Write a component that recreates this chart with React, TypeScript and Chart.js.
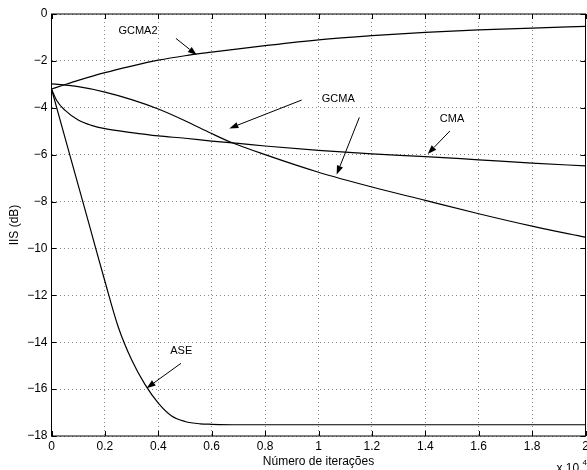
import { useEffect, useRef } from 'react';
import { Chart, registerables } from 'chart.js';

Chart.register(...registerables);

// Axis ranges / tick steps
const xMin = 0;
const xMax = 2;
const xStep = 0.2;
const yMin = -18;
const yMax = 0;
const yStep = 2;

// Series (x in units of 10^4 iterations, y in dB)
const gcma2X = [0, 0.04, 0.1, 0.2, 0.3, 0.4, 0.5, 0.6, 0.8, 1.0, 1.2, 1.4, 1.6, 1.8, 2.0];
const gcma2Y = [-3.2, -3.05, -2.83, -2.5, -2.22, -1.97, -1.78, -1.63, -1.35, -1.1, -0.92, -0.78, -0.68, -0.6, -0.53];

const gcmaX = [0, 0.1, 0.2, 0.3, 0.4, 0.5, 0.6, 0.67, 0.8, 1.0, 1.2, 1.4, 1.6, 1.8, 2.0];
const gcmaY = [-2.98, -3.1, -3.33, -3.65, -4.05, -4.55, -5.1, -5.46, -6.0, -6.75, -7.38, -7.95, -8.52, -9.05, -9.52];

const cmaX = [0, 0.02, 0.05, 0.1, 0.15, 0.2, 0.3, 0.4, 0.5, 0.6, 0.7, 0.8, 1.0, 1.2, 1.4, 1.6, 1.8, 2.0];
const cmaY = [-3.2, -3.7, -4.1, -4.52, -4.75, -4.89, -5.06, -5.2, -5.3, -5.42, -5.52, -5.63, -5.82, -5.97, -6.08, -6.22, -6.36, -6.48];

const aseX = [0, 0.05, 0.1, 0.15, 0.2, 0.25, 0.3, 0.35, 0.4, 0.45, 0.5, 0.556, 0.6, 0.7, 0.8, 1.0, 1.5, 2.0];
const aseY = [-3.2, -5.25, -7.3, -9.35, -11.4, -13.35, -14.75, -15.8, -16.6, -17.15, -17.38, -17.48, -17.5, -17.52, -17.52, -17.52, -17.52, -17.52];

// Annotation labels (data coordinates)
const labelTexts = ['GCMA2', 'GCMA', 'CMA', 'ASE'];
const labelX = [0.324, 1.074, 1.5, 0.486];
const labelY = [-0.72, -3.64, -4.46, -14.37];

// Annotation arrows (data coordinates), from -> to (head)
const arrowFromX = [0.466, 0.937, 1.153, 1.492, 0.485];
const arrowFromY = [-1.04, -3.67, -4.41, -4.99, -14.9];
const arrowToX = [0.544, 0.666, 1.068, 1.409, 0.356];
const arrowToY = [-1.75, -4.88, -6.85, -5.97, -15.96];

const FONT = '"Liberation Sans", Arial, Helvetica, sans-serif';

const toPoints = (xs: number[], ys: number[]) => xs.map((x, i) => ({ x, y: ys[i] }));

const decorPlugin = {
  id: 'decor',
  afterDatasetsDraw(chart: any) {
    const { ctx, chartArea: a, scales } = chart;
    const xs = scales.x;
    const ys = scales.y;
    ctx.save();
    // frame
    ctx.strokeStyle = '#000';
    ctx.lineWidth = 1;
    ctx.strokeRect(a.left, a.top, a.right - a.left, a.bottom - a.top);
    // inward ticks
    const tl = 5;
    ctx.beginPath();
    xs.ticks.forEach((t: any) => {
      const px = Math.round(xs.getPixelForValue(t.value)) + 0.5;
      ctx.moveTo(px, a.bottom);
      ctx.lineTo(px, a.bottom - tl);
      ctx.moveTo(px, a.top);
      ctx.lineTo(px, a.top + tl);
    });
    ys.ticks.forEach((t: any) => {
      const py = Math.round(ys.getPixelForValue(t.value)) + 0.5;
      ctx.moveTo(a.left, py);
      ctx.lineTo(a.left + tl, py);
      ctx.moveTo(a.right, py);
      ctx.lineTo(a.right - tl, py);
    });
    ctx.stroke();

    // labels
    ctx.fillStyle = '#000';
    ctx.font = `11px ${FONT}`;
    ctx.textAlign = 'center';
    ctx.textBaseline = 'middle';
    labelTexts.forEach((txt, i) => {
      ctx.fillText(txt, xs.getPixelForValue(labelX[i]), ys.getPixelForValue(labelY[i]));
    });

    // arrows
    ctx.lineWidth = 1;
    arrowFromX.forEach((fx, i) => {
      const x1 = xs.getPixelForValue(fx);
      const y1 = ys.getPixelForValue(arrowFromY[i]);
      const x2 = xs.getPixelForValue(arrowToX[i]);
      const y2 = ys.getPixelForValue(arrowToY[i]);
      const ang = Math.atan2(y2 - y1, x2 - x1);
      const hl = 9;
      const hw = 3.2;
      const bx = x2 - hl * Math.cos(ang);
      const by = y2 - hl * Math.sin(ang);
      ctx.beginPath();
      ctx.moveTo(x1, y1);
      ctx.lineTo(bx, by);
      ctx.stroke();
      ctx.beginPath();
      ctx.moveTo(x2, y2);
      ctx.lineTo(bx + hw * Math.sin(ang), by - hw * Math.cos(ang));
      ctx.lineTo(bx - hw * Math.sin(ang), by + hw * Math.cos(ang));
      ctx.closePath();
      ctx.fill();
    });
    ctx.restore();
  },
  afterDraw(chart: any) {
    const { ctx, chartArea: a } = chart;
    ctx.save();
    ctx.fillStyle = '#000';
    ctx.textAlign = 'left';
    ctx.textBaseline = 'alphabetic';
    ctx.font = `12px ${FONT}`;
    ctx.fillText('x 10', a.right - 29, 472);
    ctx.font = `8px ${FONT}`;
    ctx.fillText('4', a.right - 3, 465);
    ctx.restore();
  },
};

export default function App() {
  const ref = useRef<HTMLCanvasElement>(null);
  useEffect(() => {
    Chart.defaults.font.family = FONT;
    Chart.defaults.font.size = 12;
    Chart.defaults.color = '#000';
    const lineStyle = {
      borderColor: '#000',
      borderWidth: 1.2,
      pointRadius: 0,
      fill: false,
      cubicInterpolationMode: 'monotone' as const,
    };
    const chart = new Chart(ref.current!, {
      type: 'line',
      data: {
        datasets: [
          { label: 'GCMA2', data: toPoints(gcma2X, gcma2Y), ...lineStyle },
          { label: 'GCMA', data: toPoints(gcmaX, gcmaY), ...lineStyle },
          { label: 'CMA', data: toPoints(cmaX, cmaY), ...lineStyle },
          { label: 'ASE', data: toPoints(aseX, aseY), ...lineStyle },
        ],
      },
      options: {
        animation: false,
        responsive: true,
        maintainAspectRatio: false,
        devicePixelRatio: 1,
        layout: { padding: { top: 14, right: 1.5, left: 0, bottom: 0 } },
        plugins: { legend: { display: false }, tooltip: { enabled: false } },
        scales: {
          x: {
            type: 'linear',
            min: xMin,
            max: xMax,
            ticks: {
              stepSize: xStep,
              maxRotation: 0,
              autoSkip: false,
              padding: 3,
              callback: (v: any) => String(Number(Number(v).toFixed(1))),
            },
            grid: { color: '#888', lineWidth: 1, drawTicks: false, tickLength: 0 },
            border: { display: false, dash: [1, 3] },
            title: { display: true, text: 'Número de iterações', padding: { top: 0, bottom: 0.8 } },
            afterFit: (s: any) => {
              s.height = 34;
              s.paddingLeft = 0;
              s.paddingRight = 0;
            },
          },
          y: {
            type: 'linear',
            min: yMin,
            max: yMax,
            ticks: {
              stepSize: yStep,
              padding: 4,
              callback: (v: any) => String(Number(v)).replace('-', '\u2212'),
            },
            grid: { color: '#888', lineWidth: 1, drawTicks: false, tickLength: 0 },
            border: { display: false, dash: [1, 3] },
            title: { display: true, text: 'IIS (dB)', padding: { top: 7, bottom: 0 } },
            afterFit: (s: any) => {
              s.width = 51.5;
              s.paddingTop = 0;
              s.paddingBottom = 0;
            },
          },
        },
      },
      plugins: [decorPlugin],
    });
    return () => chart.destroy();
  }, []);
  return (
    <div style={{ position: 'absolute', left: 0, top: 0, width: 587, height: 470, background: '#fff' }}>
      <canvas ref={ref} />
    </div>
  );
}
